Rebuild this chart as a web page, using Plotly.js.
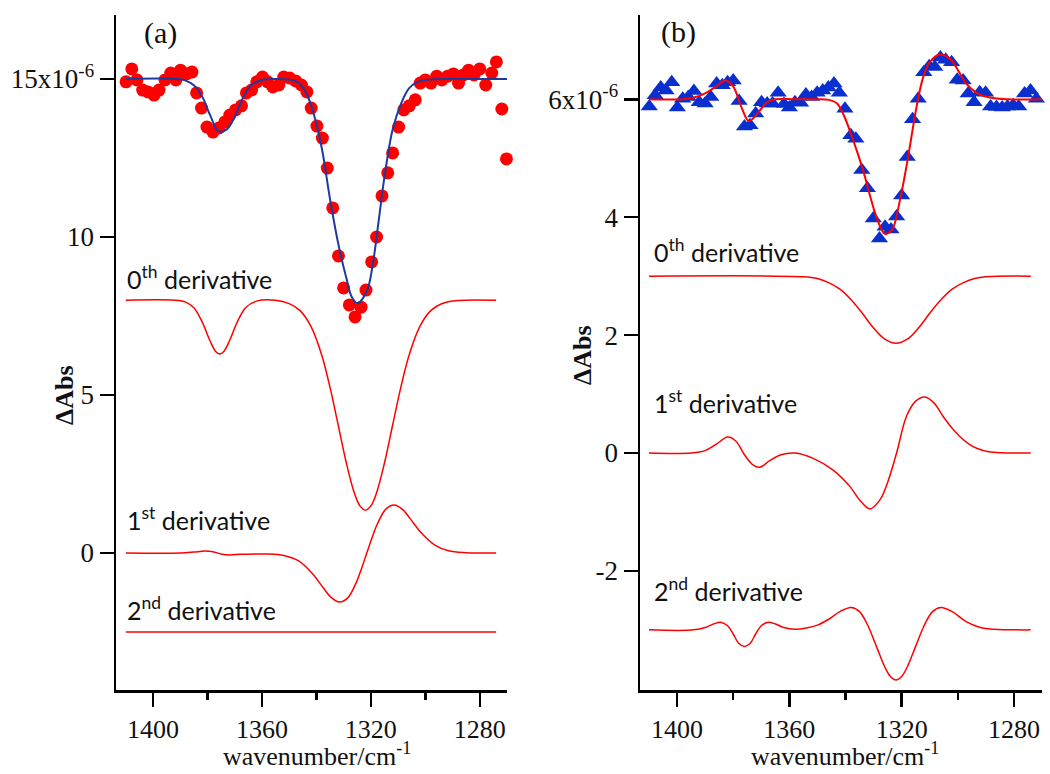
<!DOCTYPE html>
<html>
<head>
<meta charset="utf-8">
<script src="https://cdn.plot.ly/plotly-3.0.1.min.js"></script>
<style>html,body{margin:0;padding:0;background:#fff;}#chart{width:1050px;height:774px;}</style>
</head>
<body>
<div id="chart"></div>
<script>
// ---------- Panel (a) ----------
const aPtsX = [1409.9,1407.8,1405.9,1403.8,1401.8,1399.6,1397.8,1395.6,1393.5,1391.6,1389.9,1387.7,1385.7,1384.0,1382.2,1380.2,1378.0,1375.8,1373.6,1371.8,1369.7,1367.5,1365.7,1363.8,1361.9,1359.8,1357.9,1356.0,1353.8,1352.0,1349.8,1347.6,1345.5,1343.5,1341.9,1339.8,1337.8,1336.0,1334.0,1331.9,1330.0,1327.9,1325.8,1323.6,1321.8,1319.7,1317.9,1315.9,1313.8,1312.0,1309.8,1307.9,1305.9,1303.7,1301.9,1300.0,1297.9,1295.8,1293.9,1291.8,1289.7,1287.8,1286.0,1284.1,1282.1,1280.0,1277.8,1275.6,1273.9,1271.9,1270.2];
const aPtsY = [14.91,15.32,14.97,14.65,14.59,14.49,14.65,14.97,15.19,14.97,15.28,15.16,15.22,14.56,14.08,13.48,13.32,13.45,13.64,13.86,14.02,14.15,14.56,14.65,14.91,15.06,14.91,14.75,14.81,15.06,15.03,14.94,14.81,14.59,14.08,13.51,13.13,12.18,10.92,9.40,8.39,7.85,7.47,7.78,8.32,9.21,10.0,11.30,12.03,12.66,13.48,14.02,14.15,14.34,14.87,14.97,14.87,15.09,14.97,15.09,15.16,14.87,15.13,15.28,15.13,15.32,14.81,15.19,15.54,14.05,12.47];

const aFitX = [1410,1392,1388,1385,1382,1379,1376,1373,1370,1367,1364,1360,1355,1350,1347,1344,1341,1338,1335,1332,1329,1327,1325,1323,1321,1319,1317,1315,1312,1309,1306,1303,1299,1290,1270];
const aFitY = [15.0,15.0,14.95,14.8,14.45,13.85,13.35,13.4,13.8,14.4,14.8,14.97,15.0,14.98,14.9,14.6,13.9,12.8,11.2,9.8,8.7,8.1,7.9,8.05,8.4,9.3,10.6,11.9,13.4,14.2,14.7,14.9,14.98,15.0,15.0];

const aD0X = [1410,1392,1388,1385,1382,1379,1377,1375.5,1374,1372,1369,1366,1362,1355,1350,1346,1342,1338,1335,1332,1329,1326,1324,1322,1320,1318,1315,1312,1309,1306,1302,1298,1294,1288,1274];
const aD0Y = [8.0,8.0,7.94,7.76,7.32,6.70,6.38,6.30,6.38,6.70,7.32,7.76,7.97,8.0,7.89,7.67,7.17,6.25,5.24,4.05,2.85,1.88,1.49,1.35,1.49,1.88,2.85,4.05,5.24,6.25,7.17,7.67,7.89,7.99,8.0];

const aD1X = [1410,1390,1385,1381,1378,1375,1372,1368,1362,1358,1352,1346.5,1341.5,1337.5,1334.5,1331.5,1328.5,1325.5,1323.5,1321.5,1319.5,1317.5,1314.5,1311.5,1308.5,1305.5,1301.5,1296.5,1291.5,1285,1274];
const aD1Y = [0,0,0.03,0.06,0.04,-0.03,-0.06,-0.04,-0.03,-0.03,-0.08,-0.25,-0.65,-1.10,-1.41,-1.55,-1.42,-0.96,-0.51,0,0.50,0.94,1.39,1.52,1.39,1.08,0.64,0.25,0.07,0.01,0];

const aD2X = [1410,1274];
const aD2Y = [-2.5,-2.5];

// ---------- Panel (b) ----------
const bPtsX = [1409.9,1407.8,1405.8,1403.9,1401.9,1399.9,1398.0,1396.0,1394.0,1392.1,1390.0,1388.0,1385.9,1383.9,1382.0,1380.0,1377.9,1376.0,1374.0,1372.0,1369.9,1367.9,1366.0,1364.0,1361.9,1360.0,1358.0,1356.0,1354.1,1352.1,1350.1,1348.1,1346.1,1344.1,1342.2,1340.2,1338.1,1336.3,1334.2,1332.2,1330.1,1327.9,1325.9,1323.8,1321.8,1320.0,1318.0,1316.1,1314.1,1312.1,1310.2,1308.2,1306.2,1304.3,1302.2,1300.2,1298.1,1296.3,1294.2,1292.2,1290.1,1288.3,1286.2,1284.2,1282.3,1280.3,1278.3,1276.2,1274.1,1272.0,1269.8];
const bPtsY = [5.88,6.07,6.20,6.15,6.29,5.86,6.01,6.04,6.14,5.95,5.93,6.04,6.27,6.24,6.29,6.32,5.97,5.54,5.56,5.76,5.95,5.93,5.93,6.11,5.92,5.86,5.95,5.94,6.08,6.04,6.11,6.15,6.20,6.27,6.11,5.84,5.39,5.33,4.80,4.49,3.98,3.64,3.84,3.79,4.01,4.37,5.02,5.66,6.01,6.46,6.56,6.55,6.71,6.67,6.63,6.33,6.32,6.10,5.95,6.12,6.11,5.88,5.87,5.86,5.88,5.90,5.88,6.10,6.15,6.01,6.24];

const bFitX = [1410,1398,1394,1390,1386,1382.7,1380,1377,1374.4,1371,1368,1365,1358,1350,1346,1343,1340.8,1337.2,1333.7,1330.1,1328,1326,1323.5,1320.6,1317.7,1314.7,1312.3,1310,1306.4,1302.8,1299.9,1296.9,1293.3,1288.6,1282,1270];
const bFitY = [6.0,6.0,6.03,6.1,6.22,6.32,6.22,5.86,5.63,5.78,5.95,6.0,6.0,6.0,5.99,5.93,5.75,5.30,4.79,4.17,3.88,3.72,3.78,4.29,5.02,5.87,6.38,6.63,6.76,6.69,6.49,6.26,6.11,6.03,6.0,6.0];

const bD0X = [1410,1355,1350,1346,1342,1338,1334,1330,1326,1322,1318,1314,1310,1306,1302,1298,1294,1290,1274];
const bD0Y = [3.0,2.99,2.96,2.89,2.78,2.60,2.37,2.12,1.93,1.86,1.93,2.12,2.37,2.60,2.78,2.89,2.96,2.99,3.0];

const bD1X = [1410,1395,1390,1386,1382,1379,1376,1373,1370.5,1367,1363,1358,1351.5,1344.4,1338.4,1334.9,1331.3,1327.8,1325,1321.8,1318.3,1315,1311.7,1308.5,1305.2,1302,1299.3,1296,1293.3,1289,1274];
const bD1Y = [0,0,0.04,0.15,0.27,0.2,-0.03,-0.2,-0.24,-0.13,-0.03,0,-0.09,-0.29,-0.57,-0.80,-0.95,-0.80,-0.5,0,0.62,0.88,0.95,0.85,0.62,0.42,0.28,0.15,0.08,0.02,0];

const bD2X = [1410,1394,1390,1387,1384.5,1382,1380,1378,1376,1374,1372,1370,1367.5,1365,1362,1358,1354,1350,1346,1342,1338,1335,1332,1329,1326,1324,1322,1320,1318,1315,1312,1309,1306,1302,1297,1292,1287,1274];
const bD2Y = [-3.0,-3.0,-2.96,-2.90,-2.87,-2.93,-3.07,-3.23,-3.28,-3.23,-3.07,-2.93,-2.87,-2.90,-2.96,-2.99,-2.97,-2.92,-2.82,-2.69,-2.62,-2.69,-2.93,-3.28,-3.63,-3.79,-3.85,-3.79,-3.63,-3.28,-2.93,-2.69,-2.62,-2.69,-2.86,-2.96,-2.99,-3.0];

// Tick labels
const xTickVals = [1400,1360,1320,1280];
const xTickText = ['1400','1360','1320','1280'];
const aYTickVals = [0,5,10,15];
const aYTickText = ['0','5','10','15x10<sup>-6</sup>'];
const bYTickVals = [-2,0,2,4,6];
const bYTickText = ['-2','0','2','4','6x10<sup>-6</sup>'];

const RED = '#ff0000';
const redLine = (x, y, xa, ya) => ({x, y, xaxis: xa, yaxis: ya, mode: 'lines', type: 'scatter',
  line: {color: RED, width: 1.5, shape: 'spline', smoothing: 1}, hoverinfo: 'skip', showlegend: false});

const traces = [
  {x: aPtsX, y: aPtsY, xaxis: 'x', yaxis: 'y', mode: 'markers', type: 'scatter', cliponaxis: false,
   marker: {symbol: 'circle', size: 13, color: RED}, showlegend: false},
  {x: aFitX, y: aFitY, xaxis: 'x', yaxis: 'y', mode: 'lines', type: 'scatter',
   line: {color: '#1e3a9e', width: 2, shape: 'spline', smoothing: 1}, showlegend: false},
  redLine(aD0X, aD0Y, 'x', 'y'),
  redLine(aD1X, aD1Y, 'x', 'y'),
  redLine(aD2X, aD2Y, 'x', 'y'),
  {x: bPtsX, y: bPtsY, xaxis: 'x2', yaxis: 'y2', mode: 'markers', type: 'scatter', cliponaxis: false,
   marker: {symbol: 'triangle-up', size: 15, color: '#0a2fcf'}, showlegend: false},
  {x: bFitX, y: bFitY, xaxis: 'x2', yaxis: 'y2', mode: 'lines', type: 'scatter',
   line: {color: RED, width: 2, shape: 'spline', smoothing: 1}, showlegend: false},
  redLine(bD0X, bD0Y, 'x2', 'y2'),
  redLine(bD1X, bD1Y, 'x2', 'y2'),
  redLine(bD2X, bD2Y, 'x2', 'y2')
];

const serifFam = '"Liberation Serif", "Times New Roman", serif';
const xCommon = {
  tickmode: 'array', tickvals: xTickVals, ticktext: xTickText,
  ticks: 'outside', ticklen: 14, tickwidth: 2.5, tickcolor: '#000',
  minor: {tickmode: 'linear', tick0: 1380, dtick: 40, ticks: 'outside', ticklen: 7, tickwidth: 2.5, tickcolor: '#000'},
  showline: true, linecolor: '#000', linewidth: 2.5, showgrid: false, zeroline: false,
  tickfont: {family: serifFam, size: 26, color: '#111'}, fixedrange: true
};
const yCommon = {
  tickmode: 'array', ticks: 'outside', ticklen: 14, tickwidth: 2.5, tickcolor: '#000',
  showline: true, linecolor: '#000', linewidth: 2.5, showgrid: false, zeroline: false,
  tickfont: {family: serifFam, size: 27, color: '#111'}, fixedrange: true
};

const yTop = 1 - 15/774, yBot = 1 - 690/774;
const layout = {
  width: 1050, height: 774,
  margin: {l: 0, r: 0, t: 0, b: 0},
  paper_bgcolor: '#fff', plot_bgcolor: 'rgba(0,0,0,0)',
  showlegend: false,
  xaxis: Object.assign({}, xCommon, {domain: [116/1050, 507/1050], range: [1413.6, 1270], anchor: 'y'}),
  yaxis: Object.assign({}, yCommon, {domain: [yBot, yTop], range: [-4.335, 17.025], tickvals: aYTickVals, ticktext: aYTickText, anchor: 'x'}),
  xaxis2: Object.assign({}, xCommon, {domain: [640/1050, 1042/1050], range: [1413.2, 1270], anchor: 'y2'}),
  yaxis2: Object.assign({}, yCommon, {domain: [yBot, yTop], range: [-4.02, 7.43], tickvals: bYTickVals, ticktext: bYTickText, anchor: 'x2'}),
  annotations: []
};

const sans = 'Lato, "Open Sans", sans-serif';
function ann(text, x, y, opts) {
  return Object.assign({text, x, y, xref: 'paper', yref: 'paper', showarrow: false,
    xanchor: 'center', yanchor: 'middle'}, opts || {});
}
const px = v => v/1050, py = v => 1 - v/774;
const labFont = {family: sans, size: 25, color: '#111'};
layout.annotations.push(
  ann('(a)', px(160), py(33), {font: {family: serifFam, size: 30, color: '#111'}}),
  ann('(b)', px(679), py(32), {font: {family: serifFam, size: 30, color: '#111'}}),
  ann('0<sup>th</sup> derivative', px(125), py(277), {xanchor: 'left', font: labFont}),
  ann('1<sup>st</sup> derivative', px(125), py(518), {xanchor: 'left', font: labFont}),
  ann('2<sup>nd</sup> derivative', px(125), py(608), {xanchor: 'left', font: labFont}),
  ann('0<sup>th</sup> derivative', px(652), py(250), {xanchor: 'left', font: labFont}),
  ann('1<sup>st</sup> derivative', px(652), py(401), {xanchor: 'left', font: labFont}),
  ann('2<sup>nd</sup> derivative', px(652), py(589), {xanchor: 'left', font: labFont}),
  ann('wavenumber/cm<sup>-1</sup>', px(317), py(773), {yanchor: 'bottom', font: {family: serifFam, size: 26, color: '#111'}}),
  ann('wavenumber/cm<sup>-1</sup>', px(845), py(773), {yanchor: 'bottom', font: {family: serifFam, size: 26, color: '#111'}}),
  ann('<b>ΔAbs</b>', px(64), py(395), {textangle: -90, font: {family: serifFam, size: 26, color: '#111'}}),
  ann('<b>ΔAbs</b>', px(582), py(355), {textangle: -90, font: {family: serifFam, size: 26, color: '#111'}})
);

Plotly.newPlot('chart', traces, layout, {staticPlot: true, displayModeBar: false});
</script>
</body>
</html>
